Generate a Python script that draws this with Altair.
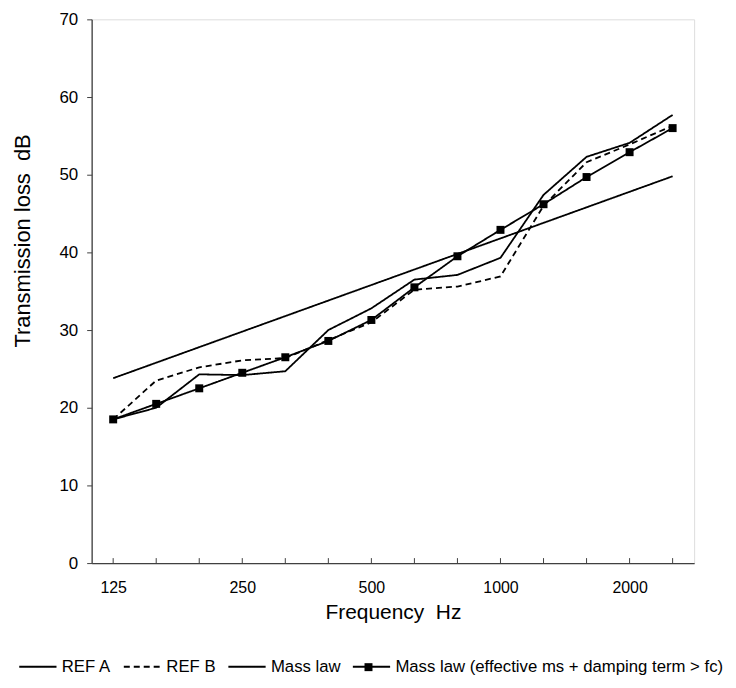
import altair as alt
import pandas as pd

freqs = ["125", "160", "200", "250", "315", "400", "500", "630", "800",
         "1000", "1250", "1600", "2000", "2500"]
shown_labels = ["125", "250", "500", "1000", "2000"]
series_names = ["REF A", "REF B", "Mass law",
                "Mass law (effective ms + damping term > fc)"]

ref_a = [18.5, 20.0, 24.3, 24.2, 24.7, 30.0, 32.8, 36.5, 37.1, 39.3, 47.4, 52.3, 54.1, 57.7]
ref_b = [18.5, 23.5, 25.2, 26.1, 26.4, 28.7, 31.0, 35.2, 35.6, 36.9, 46.0, 51.6, 53.9, 56.3]
mass_law = [23.8, 25.8, 27.8, 29.8, 31.8, 33.8, 35.8, 37.8, 39.8, 41.8, 43.8, 45.8, 47.8, 49.8]
mass_eff = [18.5, 20.5, 22.5, 24.5, 26.5, 28.6, 31.3, 35.5, 39.5, 42.9, 46.2, 49.7, 52.9, 56.0]

rows = []
for name, vals in zip(series_names, [ref_a, ref_b, mass_law, mass_eff]):
    for f, v in zip(freqs, vals):
        rows.append({"freq": f, "tl": v, "series": name})
df = pd.DataFrame(rows)
eff_df = df[df["series"] == series_names[3]]
tick_df = pd.DataFrame({"freq": freqs})

FONT = "Liberation Sans"
NBSP = "\u00a0"
label_list = "[" + ",".join("'" + s + "'" for s in shown_labels) + "]"

x_scale = alt.Scale(type="point", domain=freqs, padding=0.5)
y_scale = alt.Scale(domain=[0, 70])

x_axis = alt.Axis(
    title="Frequency " + NBSP + "Hz", labelAngle=0, labelAlign="center", ticks=False,
    labelExpr=f"indexof({label_list}, datum.value) >= 0 ? datum.value : ''",
    labelFont=FONT, labelFontSize=16, labelColor="#000000", labelPadding=25,
    titleFont=FONT, titleFontSize=21, titleFontWeight="normal", titleColor="#000000",
    titlePadding=6, domainColor="#404040", domainWidth=1.3, grid=False,
)
y_axis = alt.Axis(
    title="Transmission loss " + NBSP + "dB", values=list(range(0, 71, 10)),
    labelFont=FONT, labelFontSize=17, labelColor="#000000", labelPadding=9,
    tickColor="#404040", tickSize=5, domainColor="#404040", domainWidth=1.3,
    titleFont=FONT, titleFontSize=22, titleFontWeight="normal", titleColor="#000000",
    titleX=-62, titleY=222, titleAlign="center", titleBaseline="alphabetic",
    titleAngle=270, grid=False,
)

legend = alt.Legend(
    title=None, orient="none", direction="horizontal", legendX=-74, legendY=630,
    symbolType="stroke", symbolSize=1400, symbolStrokeWidth=1.8,
    symbolStrokeColor="#000000",
    labelFont=FONT, labelFontSize=16.8, labelColor="#000000", labelOffset=4,
    columnPadding=8, padding=0, labelLimit=500,
)

sq_legend = alt.Legend(
    title=None, orient="none", legendX=269.5, legendY=642,
    symbolType="square", symbolSize=64, symbolStrokeWidth=0,
    symbolFillColor="#000000", symbolStrokeColor="#000000",
    labelExpr="''", labelFontSize=17, labelOffset=0, padding=0,
)

lines = alt.Chart(df).mark_line(color="#000000", strokeWidth=1.8).encode(
    x=alt.X("freq:O", sort=freqs, scale=x_scale, axis=x_axis),
    y=alt.Y("tl:Q", scale=y_scale, axis=y_axis),
    strokeDash=alt.StrokeDash(
        "series:N",
        scale=alt.Scale(domain=series_names, range=[[1, 0], [6, 4], [1, 0], [1, 0]]),
        legend=legend,
    ),
    detail="series:N",
)

points = alt.Chart(eff_df).mark_point(
    filled=True, size=64, color="#000000", opacity=1
).encode(
    x=alt.X("freq:O", sort=freqs, scale=x_scale),
    y=alt.Y("tl:Q", scale=y_scale),
    shape=alt.Shape(
        "series:N",
        scale=alt.Scale(domain=[series_names[3]], range=["square"]),
        legend=sq_legend,
    ),
)

ticks = alt.Chart(tick_df).mark_rule(color="#404040", strokeWidth=1).encode(
    x=alt.X("freq:O", sort=freqs, scale=x_scale),
    y=alt.value(546),
    y2=alt.value(541),
)

chart = alt.layer(ticks, lines, points).properties(
    width=605, height=546,
    padding={"left": 84, "top": 10, "right": 34, "bottom": 118},
    autosize=alt.AutoSizeParams(type="none"),
).configure_view(
    stroke="#a6a6a6", strokeWidth=1.5
).configure(background="white")

chart.save("out.html", embed_options={"renderer": "svg", "actions": False})
